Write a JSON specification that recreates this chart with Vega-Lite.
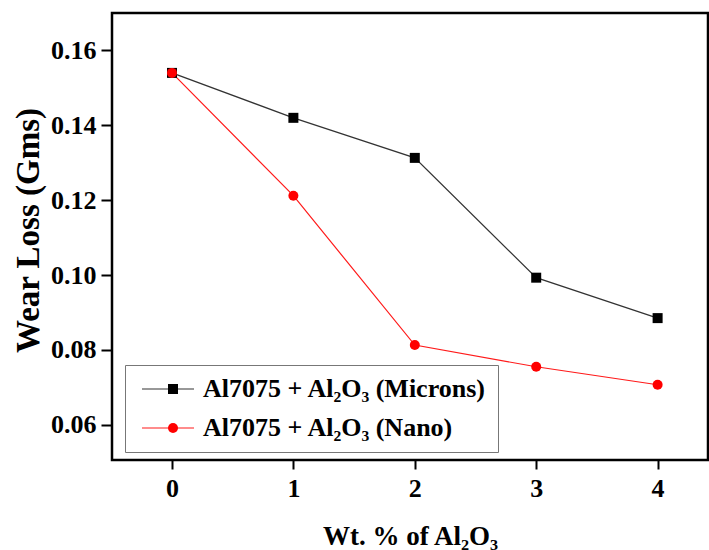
{
  "$schema": "https://vega.github.io/schema/vega-lite/v6.json",
  "width": 596,
  "height": 447,
  "autosize": {"type": "none"},
  "padding": {"left": 112, "top": 13, "right": 1, "bottom": 90},
  "background": "white",
  "config": {
    "view": {"stroke": "black", "strokeWidth": 2.5},
    "font": "'Liberation Serif', 'Times New Roman', serif"
  },
  "data": {
    "values": [
      {"wt": 0, "loss": 0.154, "series": "Al7075 + Al₂O₃ (Microns)", "symbol": "Microns"},
      {"wt": 1, "loss": 0.142, "series": "Al7075 + Al₂O₃ (Microns)", "symbol": "Microns"},
      {"wt": 2, "loss": 0.1313, "series": "Al7075 + Al₂O₃ (Microns)", "symbol": "Microns"},
      {"wt": 3, "loss": 0.0993, "series": "Al7075 + Al₂O₃ (Microns)", "symbol": "Microns"},
      {"wt": 4, "loss": 0.0885, "series": "Al7075 + Al₂O₃ (Microns)", "symbol": "Microns"},
      {"wt": 0, "loss": 0.154, "series": "Al7075 + Al₂O₃ (Nano)", "symbol": "Nano"},
      {"wt": 1, "loss": 0.1212, "series": "Al7075 + Al₂O₃ (Nano)", "symbol": "Nano"},
      {"wt": 2, "loss": 0.0813, "series": "Al7075 + Al₂O₃ (Nano)", "symbol": "Nano"},
      {"wt": 3, "loss": 0.0755, "series": "Al7075 + Al₂O₃ (Nano)", "symbol": "Nano"},
      {"wt": 4, "loss": 0.0707, "series": "Al7075 + Al₂O₃ (Nano)", "symbol": "Nano"}
    ]
  },
  "encoding": {
    "x": {
      "field": "wt",
      "type": "quantitative",
      "scale": {"domain": [-0.494, 4.415], "nice": false, "zero": false},
      "axis": {
        "values": [0, 1, 2, 3, 4],
        "format": "d",
        "grid": false,
        "domain": false,
        "tickColor": "black",
        "tickWidth": 2,
        "tickSize": 9,
        "labelFont": "'Liberation Serif', 'Times New Roman', serif",
        "labelFontSize": 26,
        "labelFontWeight": "bold",
        "labelColor": "black",
        "labelPadding": 6,
        "title": "Wt. % of Al₂O₃",
        "titleFont": "'Liberation Serif', 'Times New Roman', serif",
        "titleFontSize": 27,
        "titleFontWeight": "bold",
        "titleColor": "black",
        "titleBaseline": "alphabetic",
        "titleY": 84
      }
    },
    "y": {
      "field": "loss",
      "type": "quantitative",
      "scale": {"domain": [0.0506, 0.170], "nice": false, "zero": false},
      "axis": {
        "values": [0.06, 0.08, 0.10, 0.12, 0.14, 0.16],
        "format": ".2f",
        "grid": false,
        "domain": false,
        "tickColor": "black",
        "tickWidth": 2,
        "tickSize": 11,
        "labelFont": "'Liberation Serif', 'Times New Roman', serif",
        "labelFontSize": 26,
        "labelFontWeight": "bold",
        "labelColor": "black",
        "labelPadding": 5,
        "title": "Wear Loss (Gms)",
        "titleFont": "'Liberation Serif', 'Times New Roman', serif",
        "titleFontSize": 33,
        "titleFontWeight": "bold",
        "titleColor": "black",
        "titleBaseline": "middle",
        "titleAlign": "center",
        "titleX": -84,
        "titleY": 217
      }
    }
  },
  "layer": [
    {
      "mark": {"type": "line", "strokeWidth": 1.2},
      "encoding": {
        "stroke": {
          "field": "series",
          "type": "nominal",
          "scale": {"domain": ["Al7075 + Al₂O₃ (Microns)", "Al7075 + Al₂O₃ (Nano)"], "range": ["#333333", "#ff1a1a"]},
          "legend": {
            "orient": "none",
            "legendX": 13,
            "legendY": 352,
            "title": null,
            "symbolType": "M-2.6,0H2.6",
            "symbolSize": 400,
            "symbolStrokeWidth": 1.2,
            "symbolOffset": 19,
            "labelOffset": 22,
            "labelFont": "'Liberation Serif', 'Times New Roman', serif",
            "labelFontSize": 26,
            "labelFontWeight": "bold",
            "labelColor": "black",
            "labelLimit": 400,
            "rowPadding": 13,
            "padding": 11,
            "strokeColor": "#777777",
            "fillColor": "white",
            "zindex": 0
          }
        }
      }
    },
    {
      "mark": {"type": "point", "filled": true, "opacity": 1, "size": 100},
      "encoding": {
        "shape": {
          "field": "symbol",
          "type": "nominal",
          "scale": {"domain": ["Microns", "Nano"], "range": ["square", "circle"]},
          "legend": {
            "orient": "none",
            "legendX": 13,
            "legendY": 352,
            "title": null,
            "symbolSize": 100,
            "symbolOffset": 24,
            "labelExpr": "''",
            "labelFontSize": 26,
            "rowPadding": 13,
            "padding": 11,
            "zindex": 1
          }
        },
        "fill": {
          "field": "symbol",
          "type": "nominal",
          "scale": {"domain": ["Microns", "Nano"], "range": ["black", "#ff0000"]},
          "legend": {
            "orient": "none",
            "legendX": 13,
            "legendY": 352,
            "title": null,
            "symbolSize": 100,
            "symbolOffset": 24,
            "labelExpr": "''",
            "labelFontSize": 26,
            "rowPadding": 13,
            "padding": 11,
            "zindex": 1
          }
        }
      }
    }
  ]
}
